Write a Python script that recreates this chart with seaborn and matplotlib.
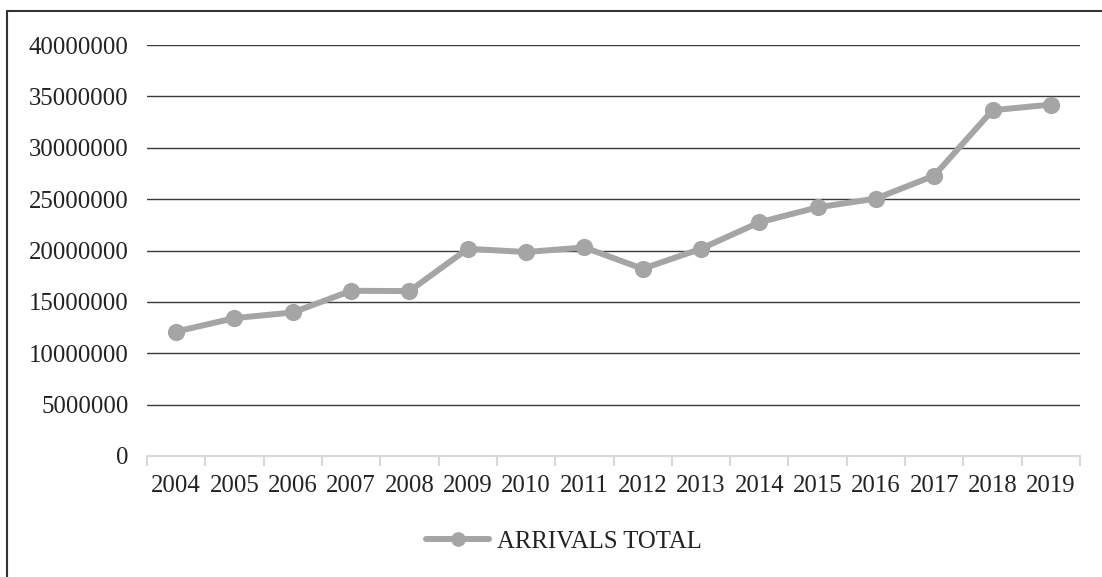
import matplotlib
matplotlib.use("Agg")
import matplotlib.pyplot as plt
from matplotlib.lines import Line2D
from matplotlib.ticker import FixedLocator
import seaborn as sns
import pandas as pd
import numpy as np

years = ["2004", "2005", "2006", "2007", "2008", "2009", "2010", "2011",
         "2012", "2013", "2014", "2015", "2016", "2017", "2018", "2019"]
arrivals = [12110000, 13420000, 13970000, 16080000, 16050000, 20170000,
            19850000, 20300000, 18220000, 20170000, 22740000, 24200000,
            25050000, 27290000, 33650000, 34200000]
series_name = "ARRIVALS TOTAL"
y_ticks = [0, 5000000, 10000000, 15000000, 20000000, 25000000,
           30000000, 35000000, 40000000]

df = pd.DataFrame({"year": years, "value": arrivals})

sns.set_theme(style="white")
plt.rcParams["font.family"] = ["Liberation Serif", "DejaVu Serif"]
fs = 17.8
text_color = "#222222"

fig = plt.figure(figsize=(11.02, 5.77), dpi=100)
ax = fig.add_axes([147 / 1102, 1 - 456 / 577, (1080 - 147) / 1102, (456 - 45) / 577])

line_color = "#a5a5a5"
sns.lineplot(data=df, x="year", y="value", ax=ax, sort=False, color=line_color,
             linewidth=4.3, marker="o", markersize=12.4, markeredgewidth=0,
             label=series_name)

n = len(years)
ax.set_xlim(-0.5, n - 0.5)
ax.set_ylim(y_ticks[0], y_ticks[-1])
ax.set_yticks(y_ticks)
ax.set_yticklabels([str(v) for v in y_ticks], fontsize=fs, color=text_color)
ax.set_xticks(range(n))
ax.set_xticklabels(years, fontsize=fs, color=text_color)
ax.xaxis.set_minor_locator(FixedLocator(np.arange(-0.5, n, 1.0)))
ax.tick_params(axis="x", which="major", length=0, pad=14)
ax.tick_params(axis="x", which="minor", length=7, width=1.5, color="#d9d9d9",
               direction="out", bottom=True)
ax.tick_params(axis="y", length=0, pad=13.2)
ax.set_xlabel("")
ax.set_ylabel("")

ax.yaxis.grid(True, color="#3a3a3a", linewidth=1.0)
ax.xaxis.grid(False)
ax.set_axisbelow(True)
for s in ["top", "right", "left"]:
    ax.spines[s].set_visible(False)
ax.spines["bottom"].set_color("#d9d9d9")
ax.spines["bottom"].set_linewidth(1.5)
ax.spines["bottom"].set_zorder(1)

leg = ax.legend(loc="center", bbox_to_anchor=(564 / 1102, 1 - 542 / 577),
                bbox_transform=fig.transFigure, frameon=False, fontsize=fs,
                handlelength=2.55, handletextpad=0.3, markerscale=0.85)
for t in leg.get_texts():
    t.set_color(text_color)

# figure border (top and left visible)
fig.add_artist(Line2D([7 / 1102, 7 / 1102], [0, 1 - 11 / 577],
                      transform=fig.transFigure, color="#333333", linewidth=1.5))
fig.add_artist(Line2D([7 / 1102, 1], [1 - 11 / 577, 1 - 11 / 577],
                      transform=fig.transFigure, color="#333333", linewidth=1.5))

fig.savefig("out.png", dpi=100)
